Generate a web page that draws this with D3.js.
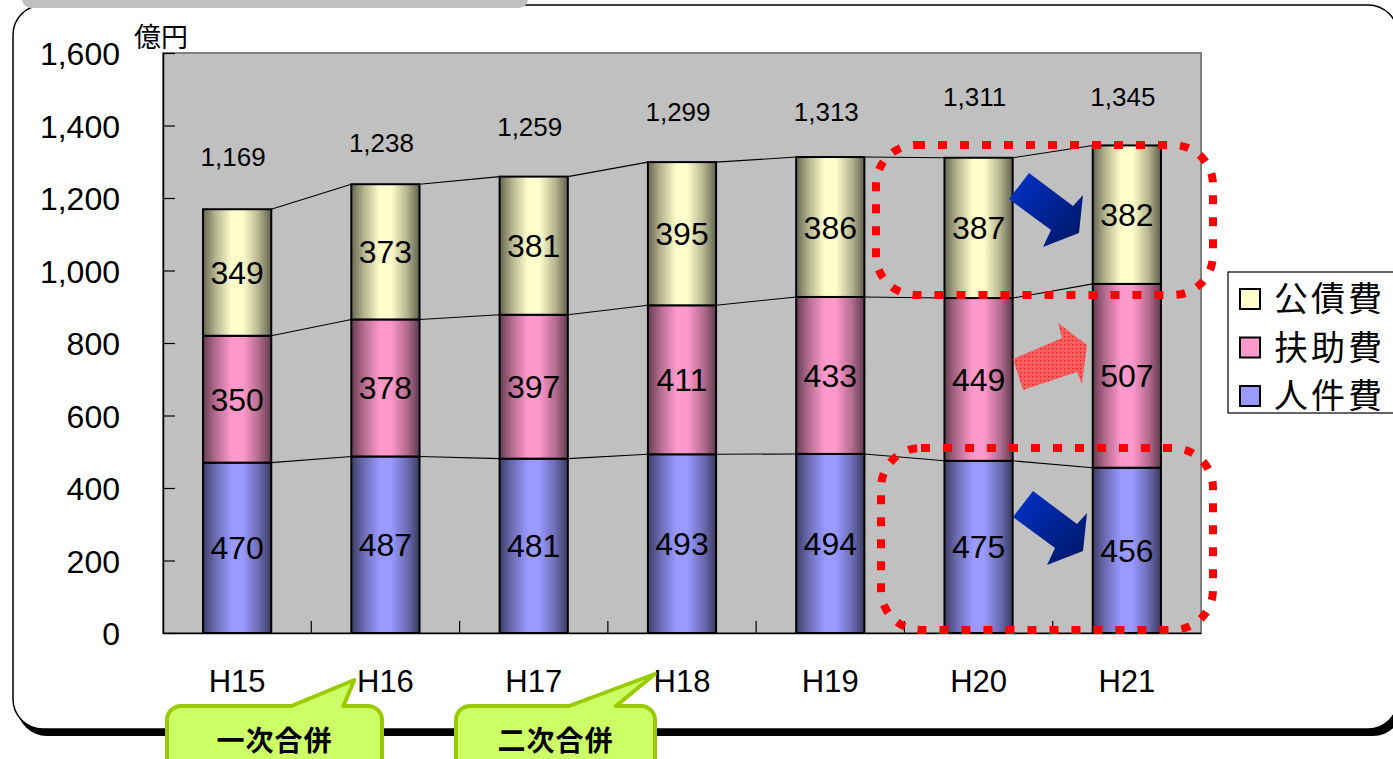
<!DOCTYPE html>
<html><head><meta charset="utf-8">
<script src="https://cdn.jsdelivr.net/npm/d3@7"></script>
<style>
html,body{margin:0;padding:0;background:#fff;overflow:hidden}
svg{display:block}
</style></head>
<body>
<svg id="c" width="1393" height="759"></svg>
<script>
// ---- data ----
const categories = ["H15","H16","H17","H18","H19","H20","H21"];
const jinkenhi = [470,487,481,493,494,475,456];   // 人件費
const fujohi   = [350,378,397,411,433,449,507];   // 扶助費
const kosaihi  = [349,373,381,395,386,387,382];   // 公債費
const totals   = [1169,1238,1259,1299,1313,1311,1345];
const totalLabelLevel = [1313,1354,1396,1437,1437,1479,1479]; // hidden series carrying total labels
const yTicks = [0,200,400,600,800,1000,1200,1400,1600];
const seriesNames = ["人件費","扶助費","公債費"];
const seriesColors = ["#9999ff","#ff99cc","#ffffcc"];
const legendOrder = ["公債費","扶助費","人件費"];
const mergers = [{label:"一次合併", at:"H16"},{label:"二次合併", at:"H18"}];

const svg = d3.select("#c");
const defs = svg.append("defs");
const NUM = "'Liberation Sans', Arial, sans-serif";
const CJK = "'Noto Sans CJK JP', 'Noto Sans CJK SC', sans-serif";

// ---- frame ----
function rr(x0,y0,x1,y1,r){
  const p=d3.path();
  p.moveTo(x0+r,y0);p.lineTo(x1-r,y0);p.arcTo(x1,y0,x1,y0+r,r);
  p.lineTo(x1,y1-r);p.arcTo(x1,y1,x1-r,y1,r);p.lineTo(x0+r,y1);
  p.arcTo(x0,y1,x0,y1-r,r);p.lineTo(x0,y0+r);p.arcTo(x0,y0,x0+r,y0,r);p.closePath();
  return p.toString();
}
svg.append("path").attr("d",rr(17,10,1403,736,30)).attr("fill","#000");
svg.append("path").attr("d",rr(13,5,1398,729,30)).attr("fill","#fff").attr("stroke","#000").attr("stroke-width",1.5);
svg.append("path").attr("d",rr(22,-20,528,8,9)).attr("fill","#c0c0c0");

// ---- scales ----
const x = d3.scaleBand().domain(categories).range([163,1201]).paddingInner(0.54).paddingOuter(0.27);
const y = d3.scaleLinear().domain([0,1600]).range([633,53]);

// plot area
svg.append("rect").attr("x",163).attr("y",y(1600)).attr("width",1201-163).attr("height",y(0)-y(1600))
  .attr("fill","#c0c0c0").attr("stroke","#808080").attr("stroke-width",2);

// gradients
seriesColors.forEach((c,i)=>{
  const g = defs.append("linearGradient").attr("id","g"+i).attr("x1","0").attr("x2","1").attr("y1","0").attr("y2","0");
  const dk = d3.interpolateRgb(c,"#000");
  g.append("stop").attr("offset","0%").attr("stop-color",dk(0.6));
  g.append("stop").attr("offset","18%").attr("stop-color",dk(0.3));
  g.append("stop").attr("offset","42%").attr("stop-color",c);
  g.append("stop").attr("offset","58%").attr("stop-color",c);
  g.append("stop").attr("offset","82%").attr("stop-color",dk(0.3));
  g.append("stop").attr("offset","100%").attr("stop-color",dk(0.62));
});

// stacked data
const rows = categories.map((c,i)=>({cat:c,"人件費":jinkenhi[i],"扶助費":fujohi[i],"公債費":kosaihi[i]}));
const stack = d3.stack().keys(seriesNames)(rows);

// axes
const yAxis = d3.axisLeft(y).tickValues(yTicks).tickFormat(d3.format(",")).tickSizeInner(-12).tickSizeOuter(0).tickPadding(43);
const ya = svg.append("g").attr("transform","translate(163,0)").call(yAxis);
ya.select(".domain").attr("stroke","#000").attr("stroke-width",1.5);
ya.selectAll(".tick line").attr("stroke","#000").attr("stroke-width",1.2);
ya.selectAll("text").attr("font-family",NUM).attr("font-size",32).attr("fill","#000").attr("dy","0.36em");

const xAxis = d3.axisBottom(x).tickSize(0).tickPadding(37);
const xa = svg.append("g").attr("transform","translate(0,633)").call(xAxis);
xa.select(".domain").attr("stroke","#000").attr("stroke-width",1.5);
xa.selectAll("text").attr("font-family",NUM).attr("font-size",31).attr("fill","#000");
// category boundary ticks
svg.append("g").selectAll("line").data(categories.slice(1)).join("line")
  .attr("x1",d=>x(d)-x.step()*x.paddingInner()/2).attr("x2",d=>x(d)-x.step()*x.paddingInner()/2)
  .attr("y1",633).attr("y2",621).attr("stroke","#000").attr("stroke-width",1.2);

// series lines
stack.forEach(s=>{
  svg.append("g").selectAll("line").data(s.slice(0,-1)).join("line")
    .attr("x1",d=>x(d.data.cat)+x.bandwidth()).attr("y1",d=>y(d[1]))
    .attr("x2",(d,i)=>x(s[i+1].data.cat)).attr("y2",(d,i)=>y(s[i+1][1]))
    .attr("stroke","#000").attr("stroke-width",1.1);
});

// bars
stack.forEach((s,si)=>{
  svg.append("g").selectAll("rect").data(s).join("rect")
    .attr("x",d=>x(d.data.cat)).attr("width",x.bandwidth())
    .attr("y",d=>y(d[1])).attr("height",d=>y(d[0])-y(d[1]))
    .attr("fill","url(#g"+si+")").attr("stroke","#000").attr("stroke-width",2);
});
// segment labels
stack.forEach((s,si)=>{
  svg.append("g").selectAll("text").data(s).join("text")
    .attr("x",d=>x(d.data.cat)+x.bandwidth()/2).attr("y",d=>y((d[0]+d[1])/2))
    .attr("dy","0.36em").attr("text-anchor","middle")
    .attr("font-family",NUM).attr("font-size",32).attr("fill","#000")
    .text(d=>d[1]-d[0]);
});
// total labels
svg.append("g").selectAll("text").data(categories).join("text")
  .attr("x",d=>x(d)+x.bandwidth()/2-4).attr("y",(d,i)=>y(totalLabelLevel[i]))
  .attr("dy","0.36em").attr("text-anchor","middle")
  .attr("font-family",NUM).attr("font-size",26).attr("fill","#000")
  .text((d,i)=>d3.format(",")(totals[i]));

// unit
svg.append("text").attr("x",134).attr("y",47).attr("font-family",CJK).attr("font-size",27).text("億円");

// legend
const lg = svg.append("g");
lg.append("rect").attr("x",1228).attr("y",272).attr("width",180).attr("height",141).attr("fill","#fff").attr("stroke","#000").attr("stroke-width",1.2);
legendOrder.forEach((n,i)=>{
  const si = seriesNames.indexOf(n);
  const cy = 299 + i*48.5;
  lg.append("rect").attr("x",1240).attr("y",cy-10).attr("width",20).attr("height",20)
    .attr("fill",seriesColors[si]).attr("stroke","#000").attr("stroke-width",2);
  lg.append("text").attr("x",1274).attr("y",cy).attr("dy","0.36em")
    .attr("font-family",CJK).attr("font-size",34).attr("letter-spacing",3).attr("fill","#000").text(n);
});

// red dotted highlights
function hl(x0,y0,x1,y1,r){
  svg.append("path").attr("d",rr(x0,y0,x1,y1,r)).attr("fill","none").attr("stroke","#ff0000")
    .attr("stroke-width",8).attr("stroke-dasharray","9,13");
}
hl(876,145,1213,295,40);
hl(881,448,1213,630,40);

// arrows
const bg = defs.append("linearGradient").attr("id","ab").attr("x1","0").attr("y1","0").attr("x2","1").attr("y2","1");
bg.append("stop").attr("offset","0%").attr("stop-color","#0033cc");
bg.append("stop").attr("offset","100%").attr("stop-color","#001560");
const blueArrow = [[1033,491],[1077,524],[1087,513],[1083,551],[1047,565],[1055,548],[1013,517]];
[[-4,-318],[0,0]].forEach(o=>{
  svg.append("polygon").attr("points",blueArrow.map(p=>[p[0]+o[0],p[1]+o[1]].join(",")).join(" "))
    .attr("fill","url(#ab)");
});
const pat = defs.append("pattern").attr("id","pp").attr("width",4).attr("height",4).attr("patternUnits","userSpaceOnUse");
pat.append("rect").attr("width",4).attr("height",4).attr("fill","#f46060");
pat.append("rect").attr("width",1.3).attr("height",1.3).attr("fill","#ff1010");
svg.append("polygon").attr("points",[[1013,359],[1062,338],[1058,323],[1087,345],[1082,384],[1077,372],[1023,390]].map(p=>p.join(",")).join(" "))
  .attr("fill","url(#pp)");

// callouts
function callout(x0, x1, tipX, tipY, bl, br, text){
  const y0=706, y1=790, r=14, cx=(x0+x1)/2;
  const p=d3.path();
  p.moveTo(x0+r,y0);p.lineTo(bl,y0);p.lineTo(tipX,tipY);p.lineTo(br,y0);
  p.lineTo(x1-r,y0);p.arcTo(x1,y0,x1,y0+r,r);p.lineTo(x1,y1);p.lineTo(x0,y1);
  p.lineTo(x0,y0+r);p.arcTo(x0,y0,x0+r,y0,r);p.closePath();
  svg.append("path").attr("d",p.toString()).attr("fill","#ccff66").attr("stroke","#99cc00").attr("stroke-width",4).attr("stroke-linejoin","round");
  svg.append("text").attr("x",cx).attr("y",741).attr("dy","0.36em").attr("text-anchor","middle")
    .attr("font-family",CJK).attr("font-weight","bold").attr("font-size",28).attr("letter-spacing",1).attr("fill","#000").text(text);
}
const t1 = x(mergers[0].at)+3, t2 = x(mergers[1].at)+7;
callout(167, 382, t1, 680, t1-63, t1-11, mergers[0].label);
callout(456, 655, t2, 674, t2-86, t2-39, mergers[1].label);
</script>
</body></html>
